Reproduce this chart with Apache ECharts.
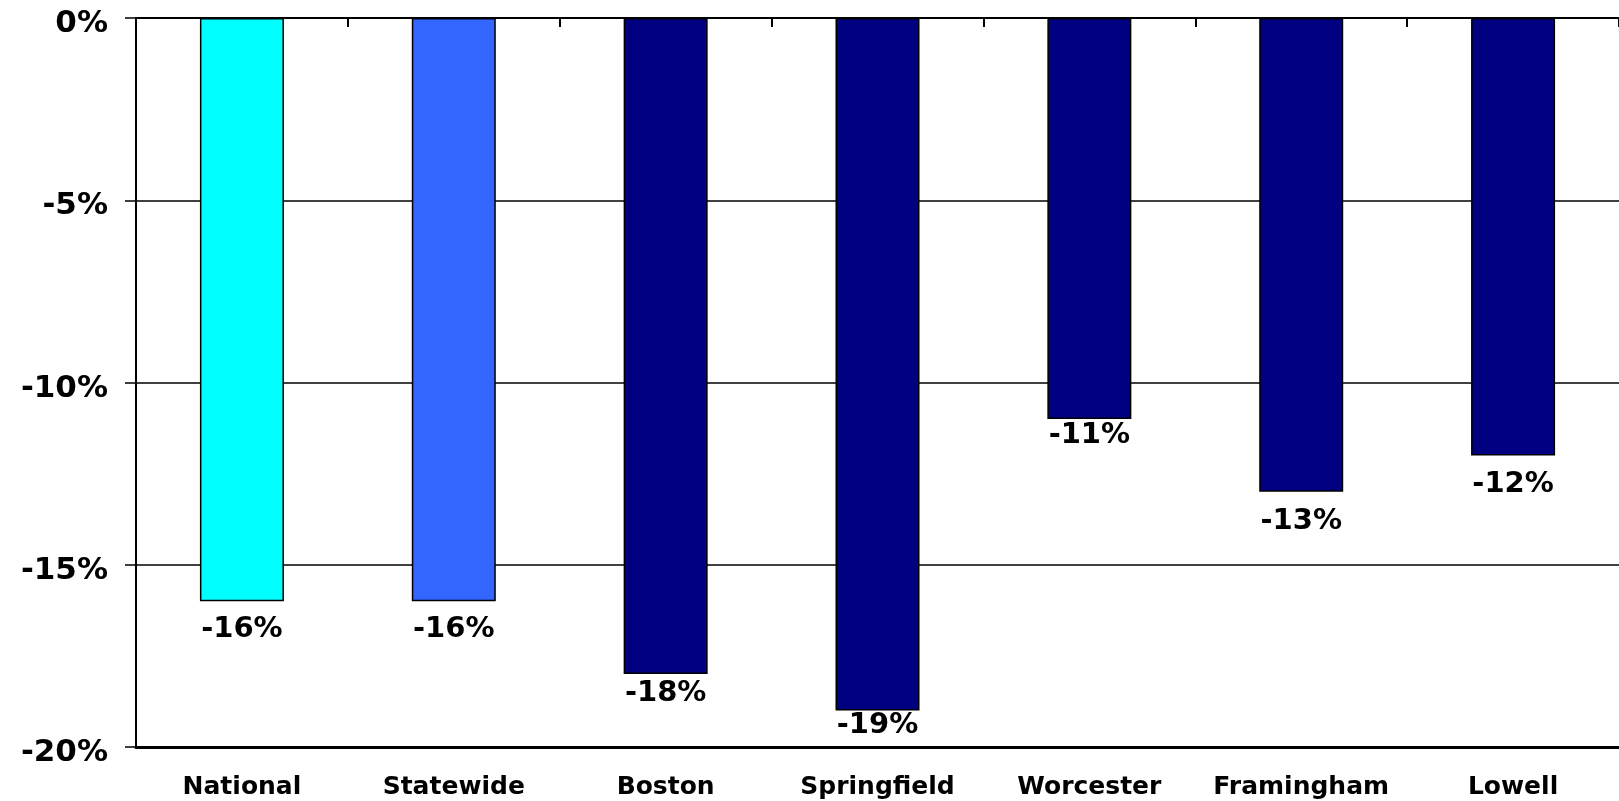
<!DOCTYPE html>
<html>
<head>
<meta charset="utf-8">
<script src="https://cdn.jsdelivr.net/npm/echarts@6/dist/echarts.min.js"></script>
<style>
  html, body {margin: 0; padding: 0; background: #fff;}
  #chart {width: 1619px; height: 801px;}
</style>
</head>
<body>
<div id="chart"></div>
<script>
// categories and values
const categories = ['National', 'Statewide', 'Boston', 'Springfield', 'Worcester', 'Framingham', 'Lowell'];
const changes = [-16, -16, -18, -19, -11, -13, -12];
const barColors = ['#00FFFF', '#3366FF', '#000080', '#000080', '#000080', '#000080', '#000080'];
const yTicks = {min: -20, max: 0, step: 5};

// the source places its value labels unevenly below the bars
const labelGap = [14, 14, 5, 0, 2, 15, 15];

const fontFamily = '"DejaVu Sans", Verdana, sans-serif';

let el = echarts.init(document.getElementById('chart'));

let option = {
    animation: false,
    backgroundColor: '#fff',
    grid: {
        left: 136,
        right: -6,
        top: 18,
        bottom: 54
    },
    xAxis: [
        {
            type: 'category',
            data: categories,
            position: 'bottom',
            axisLine: {onZero: false, lineStyle: {color: '#000', width: 3}},
            axisTick: {show: false},
            axisLabel: {
                interval: 0,
                color: '#000',
                fontFamily: fontFamily,
                fontWeight: 'bold',
                fontSize: 25,
                margin: 28
            },
            splitLine: {show: false}
        },
        {
            type: 'category',
            data: categories,
            position: 'top',
            axisLine: {onZero: false, lineStyle: {color: '#000', width: 2}},
            axisTick: {show: true, inside: true, interval: 0, length: 9, lineStyle: {color: '#000', width: 2}},
            axisLabel: {show: false},
            splitLine: {show: false}
        }
    ],
    yAxis: {
        type: 'value',
        min: yTicks.min,
        max: yTicks.max,
        interval: yTicks.step,
        axisLine: {show: true, lineStyle: {color: '#000', width: 2}},
        axisTick: {show: true, length: 11, lineStyle: {color: '#000', width: 1.5}},
        axisLabel: {
            margin: 28,
            formatter: '{a|{value}%}',
            rich: {
                a: {
                    color: '#000',
                    fontFamily: fontFamily,
                    fontWeight: 'bold',
                    fontSize: 31,
                    padding: [12, 0, 0, 0]
                }
            }
        },
        splitLine: {show: true, lineStyle: {color: '#000', width: 1.5}}
    },
    series: [
        {
            type: 'bar',
            xAxisIndex: 0,
            barWidth: 84,
            data: changes.map((v, i) => ({
                value: v,
                itemStyle: {color: barColors[i]},
                label: {distance: labelGap[i]}
            })),
            itemStyle: {borderColor: '#000', borderWidth: 1.5},
            label: {
                show: true,
                position: 'bottom',
                color: '#000',
                fontFamily: fontFamily,
                fontWeight: 'bold',
                fontSize: 29,
                formatter: function (p) {
                    return p.value + '%';
                }
            }
        }
    ]
};
el.setOption(option);
</script>
</body>
</html>
